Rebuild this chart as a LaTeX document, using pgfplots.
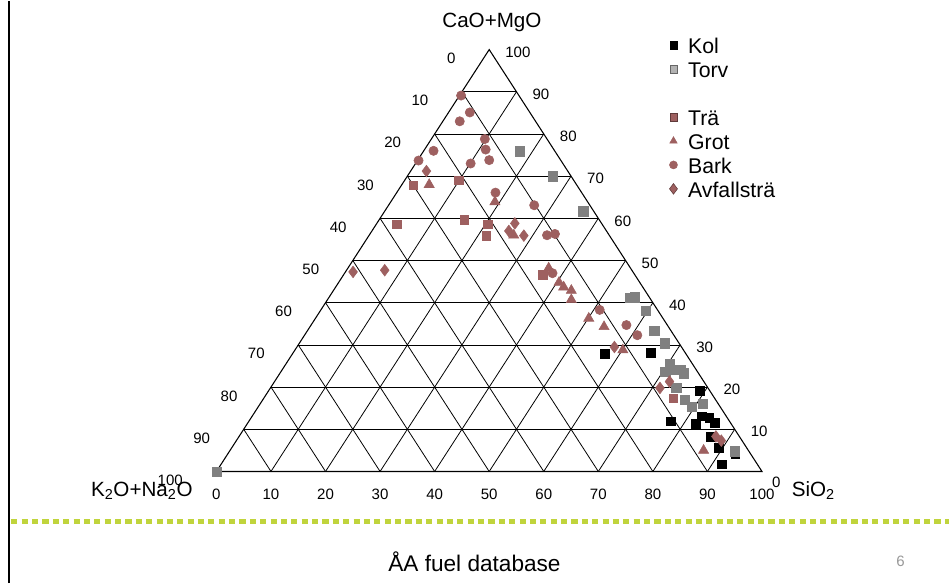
\documentclass[border=0pt]{standalone}
\usepackage{pgfplots}
\pgfplotsset{compat=1.18}
\usepackage{pgfplotstable}
\usepackage{fontspec}
\setmainfont{Liberation Sans}
\definecolor{wood}{RGB}{158,96,96}
\definecolor{peat}{RGB}{128,128,128}
\definecolor{limeg}{RGB}{192,212,60}
\newcommand{\tickfont}{\fontsize{11.3}{13}\selectfont}
\newcommand{\labfont}{\fontsize{15.5}{18}\selectfont}
\newcommand{\legfont}{\fontsize{16}{18}\selectfont}
\tikzset{gridline/.style={black, line width=0.6pt}}

% ternary compositions: S = SiO2, C = CaO+MgO (K2O+Na2O = 100 - S - C)
\pgfplotstableread{
S C
57.2 27.9
65.6 28.1
79.1 19.1
77.3 11.9
82.4 13.1
84.0 12.7
85.6 11.5
82.2 11.3
86.5 8.3
89.3 5.6
93.0 4.2
91.8 1.7
}\kol
\pgfplotstableread{
S C
17.6 75.9
26.7 70.0
36.4 61.7
55.2 41.1
56.0 41.3
59.6 38.1
63.6 33.3
67.0 30.4
70.4 23.7
70.4 25.5
71.9 24.1
73.1 24.1
74.0 23.3
74.4 19.8
77.4 17.0
79.4 15.4
81.2 16.0
92.6 4.8
0.0 0.0
}\torv
\pgfplotstableread{
S C
2.2 67.8
9.9 69.0
3.8 58.6
15.6 59.7
20.4 58.6
21.5 55.9
36.5 46.6
75.0 17.4
}\tra
\pgfplotstableread{
S C
5.0 68.0
19.1 63.9
26.5 56.0
36.8 48.2
40.4 44.8
41.8 43.7
43.6 42.9
44.7 40.7
50.1 36.3
53.9 34.3
60.1 28.8
86.8 5.0
}\grot
\pgfplotstableread{
S C
0.3 89.1
3.9 85.1
3.1 83.0
9.8 78.8
11.2 76.3
13.1 73.8
10.1 73.0
1.8 76.0
0.2 73.7
18.1 66.1
26.7 63.1
32.6 56.0
33.9 56.3
38.1 47.0
51.1 38.3
57.8 34.7
61.0 32.3
}\bark
\pgfplotstableread{
S C
2.9 71.2
1.4 47.3
7.0 47.7
25.1 57.0
25.3 58.8
28.4 55.9
58.2 29.5
72.4 21.3
71.4 19.8
87.4 8.3
88.9 7.3
}\avf

\begin{document}
\begin{tikzpicture}
\begin{axis}[
  scale only axis, width=714pt, height=438pt,
  xmin=-39.67, xmax=134.37, ymin=-26.48, ymax=111.58,
  hide axis, clip=false,
  legend image code/.code={\draw[#1] plot coordinates {(0pt,2pt)};},
  legend cell align=left,
  legend style={at={(axis cs:83.0,103.3)}, anchor=north west, draw=none, fill=none,
    inner sep=0pt, font=\legfont, row sep=0pt, column sep=7pt,
    nodes={inner sep=1pt, text height=12.5pt, text depth=3.5pt}},
]
\fill[white] (axis cs:-39.67,-26.48) rectangle (axis cs:134.37,111.58);
% slide decorations
\draw[black, line width=1.1pt] (axis cs:-38.03,-26.48) -- (axis cs:-38.03,111.58);
\draw[limeg, line width=3.8pt, dash pattern=on 4.6pt off 3.2pt] (axis cs:-37.6,-11.82) -- (axis cs:134.37,-11.82);
\node[font=\fontsize{17}{20}\selectfont, anchor=base] at (axis cs:47.3,-23.6) {ÅA fuel database};
\node[font=\tickfont, text=black!40] at (axis cs:125.4,-21.3) {6};

% ternary grid
\pgfplotsinvokeforeach{10,20,30,40,50,60,70,80,90}{
  \draw[gridline] (axis cs:{#1/2},#1) -- (axis cs:{100-#1/2},#1);
  \draw[gridline] (axis cs:#1,0) -- (axis cs:{#1+(100-#1)/2},{100-#1});
  \draw[gridline] (axis cs:{100-#1},0) -- (axis cs:{(100-#1)/2},{100-#1});
}
\draw[black, line width=0.8pt, line join=miter] (axis cs:0,0) -- (axis cs:100,0) -- (axis cs:50,100) -- cycle;

% tick labels
\pgfplotsinvokeforeach{0,10,20,30,40,50,60,70,80,90,100}{
  \node[font=\tickfont] at (axis cs:#1,-5.4) {#1};
  \node[font=\tickfont, anchor=east] at (axis cs:{(100-#1)/2-5.3},{100-#1-2.1}) {#1};
}
\pgfplotsinvokeforeach{10,20,30,40,50,60,70,80,90,100}{
  \node[font=\tickfont, anchor=west] at (axis cs:{100-#1/2+2.1},{#1-0.6}) {#1};
}
\node[font=\tickfont, anchor=west] at (axis cs:101.0,-2.6) {0};

% axis titles
\node[font=\labfont] at (axis cs:50.5,106.4) {CaO+MgO};
\node[font=\labfont, anchor=base east] at (axis cs:-3.5,-5.9) {K\textsubscript{2}O+Na\textsubscript{2}O};
\node[font=\labfont, anchor=base west] at (axis cs:104.6,-5.9) {SiO\textsubscript{2}};

% data
\addplot[only marks, mark=square*, mark size=3.3pt, black, forget plot]
  table[x expr=\thisrow{S}+0.5*\thisrow{C}, y=C] {\kol};
\addplot[only marks, mark=square*, mark size=3.5pt, peat, forget plot]
  table[x expr=\thisrow{S}+0.5*\thisrow{C}, y=C] {\torv};
\addplot[only marks, mark=square*, mark size=3.2pt, wood, forget plot]
  table[x expr=\thisrow{S}+0.5*\thisrow{C}, y=C] {\tra};
\addplot[only marks, mark=triangle*, mark size=4.4pt, wood, forget plot]
  table[x expr=\thisrow{S}+0.5*\thisrow{C}, y=C] {\grot};
\addplot[only marks, mark=*, mark size=3.5pt, wood, forget plot]
  table[x expr=\thisrow{S}+0.5*\thisrow{C}, y=C] {\bark};
\addplot[only marks, mark=diamond*, mark size=4.4pt, wood, forget plot]
  table[x expr=\thisrow{S}+0.5*\thisrow{C}, y=C] {\avf};

% legend
\addlegendimage{only marks, mark=square*, mark size=2.8pt, black}
\addlegendentry{Kol}
\addlegendimage{only marks, mark=square*, mark size=2.8pt, draw=black!60, fill=black!30}
\addlegendentry{Torv}
\addlegendimage{empty legend}
\addlegendentry{\vphantom{Kol}}
\addlegendimage{only marks, mark=square*, mark size=2.8pt, draw=wood!60!black, fill=wood}
\addlegendentry{Trä}
\addlegendimage{only marks, mark=triangle*, mark size=3.2pt, wood}
\addlegendentry{Grot}
\addlegendimage{only marks, mark=*, mark size=3pt, wood}
\addlegendentry{Bark}
\addlegendimage{only marks, mark=diamond*, mark size=4pt, draw=wood!60!black, fill=wood}
\addlegendentry{Avfallsträ}
\end{axis}
\end{tikzpicture}
\end{document}
